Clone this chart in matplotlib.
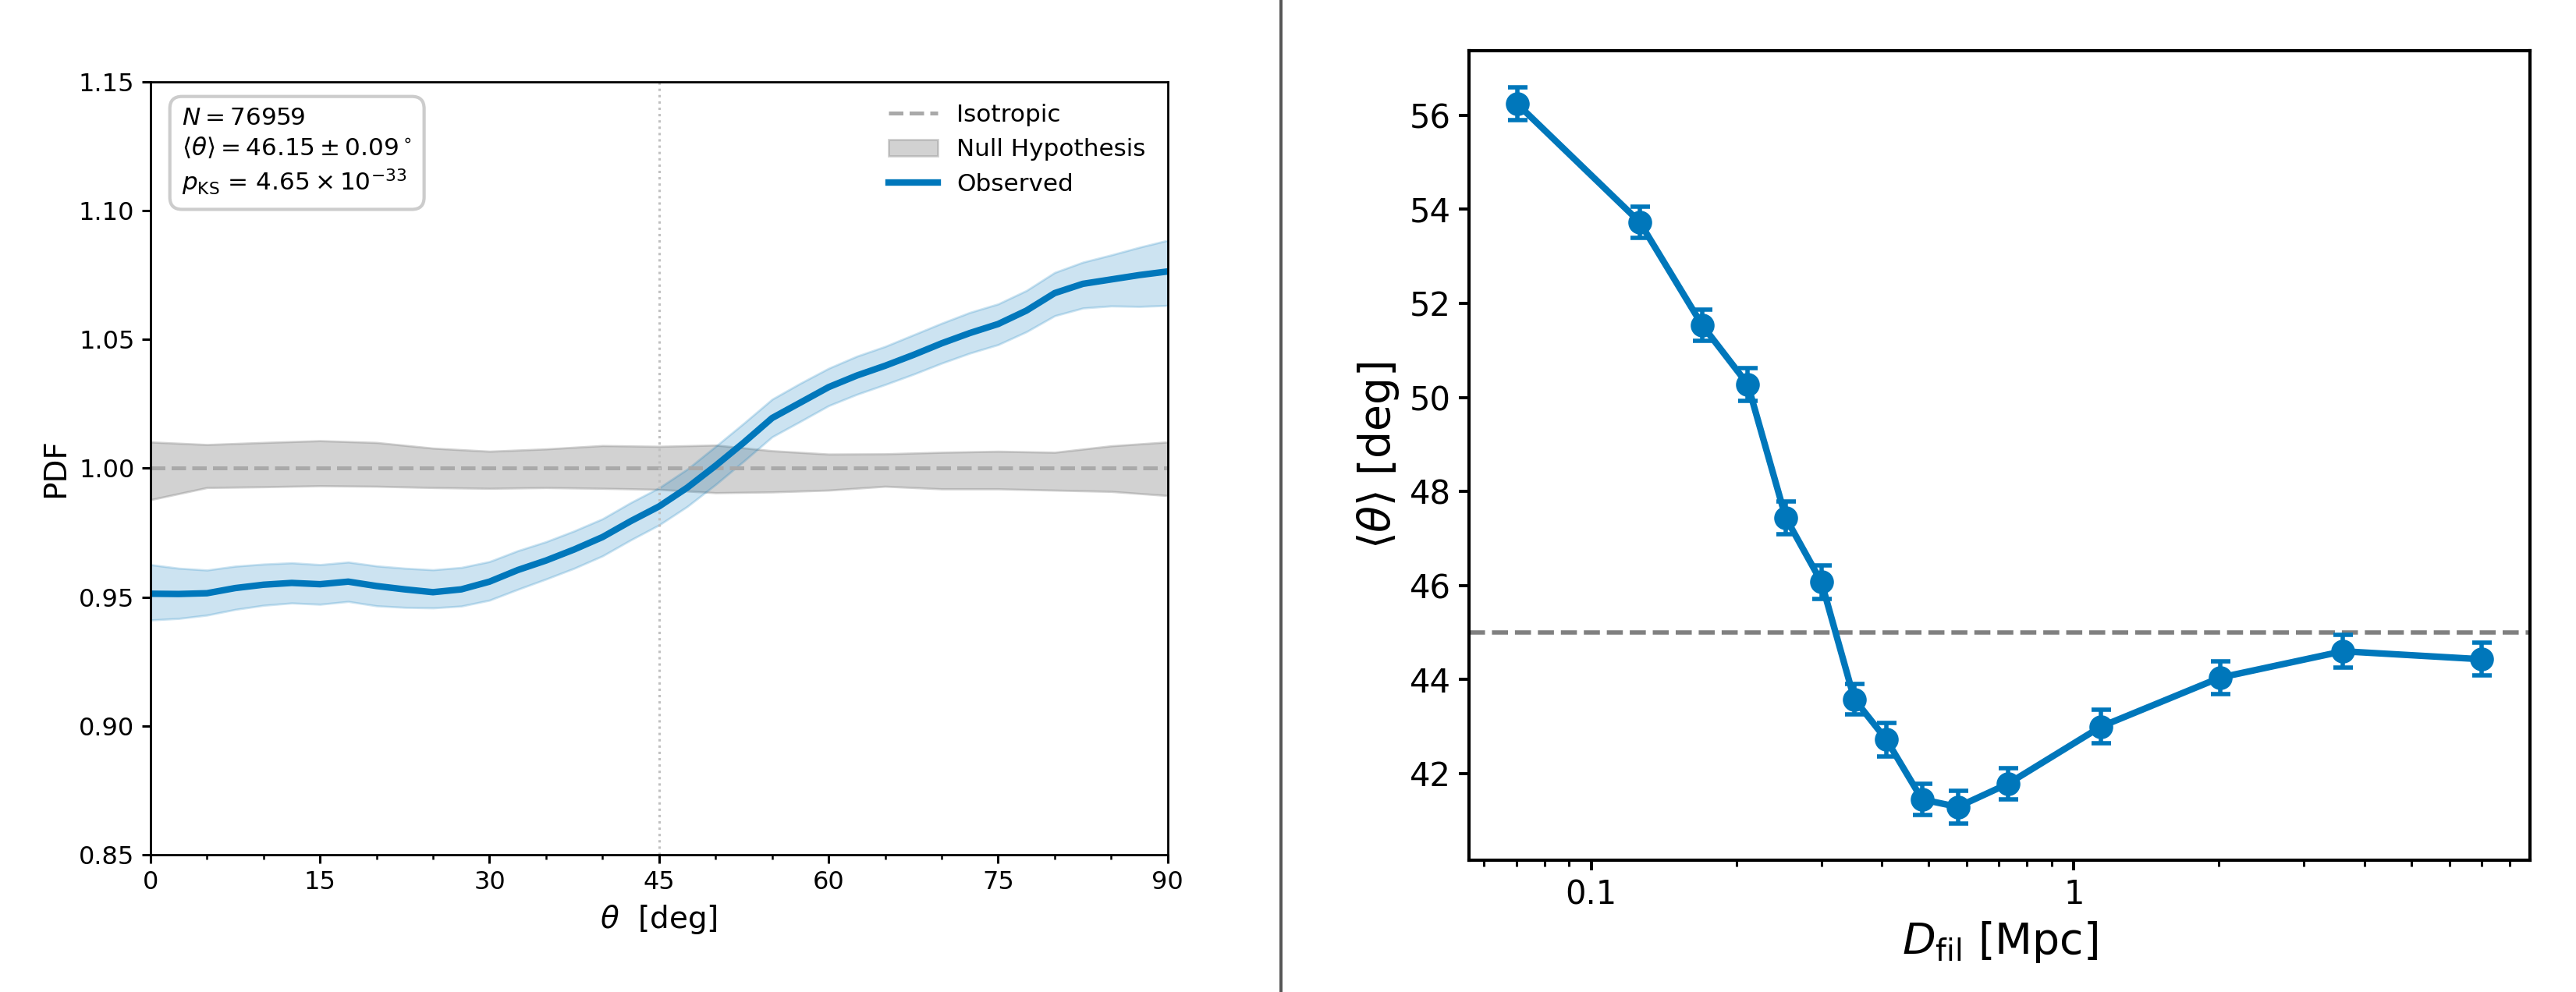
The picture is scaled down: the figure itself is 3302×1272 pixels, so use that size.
import matplotlib
matplotlib.use("Agg")
import matplotlib.pyplot as plt
import matplotlib.ticker as ticker
from matplotlib.lines import Line2D

# ---- left panel: PDF of theta ----
theta_obs = [0, 2.5, 5, 7.5, 10, 12.5, 15, 17.5, 20, 22.5, 25, 27.5, 30, 32.5, 35,
             37.5, 40, 42.5, 45, 47.5, 50, 52.5, 55, 57.5, 60, 62.5, 65, 67.5, 70,
             72.5, 75, 77.5, 80, 82.5, 85, 87.5, 90]
pdf_obs = [0.9513, 0.9512, 0.9515, 0.9535, 0.9548, 0.9555, 0.9550, 0.9560, 0.9543,
           0.9530, 0.9519, 0.9530, 0.9560, 0.9605, 0.9642, 0.9685, 0.9733, 0.9795,
           0.9852, 0.9925, 1.0010, 1.0100, 1.0195, 1.0255, 1.0315, 1.0360, 1.0398,
           1.0440, 1.0485, 1.0525, 1.0560, 1.0612, 1.0680, 1.0716, 1.0733, 1.0750,
           1.0764]
pdf_obs_hi = [0.9626, 0.9612, 0.9605, 0.9620, 0.9628, 0.9633, 0.9626, 0.9636, 0.9621,
              0.9612, 0.9606, 0.9615, 0.9638, 0.9680, 0.9715, 0.9757, 0.9804, 0.9867,
              0.9924, 0.9997, 1.0085, 1.0175, 1.0268, 1.0330, 1.0388, 1.0435, 1.0473,
              1.0518, 1.0563, 1.0605, 1.0638, 1.0690, 1.0760, 1.0800, 1.0828, 1.0858,
              1.0885]
pdf_obs_lo = [0.9411, 0.9417, 0.9430, 0.9452, 0.9468, 0.9477, 0.9472, 0.9483, 0.9466,
              0.9460, 0.9458, 0.9465, 0.9488, 0.9530, 0.9570, 0.9612, 0.9660, 0.9722,
              0.9780, 0.9852, 0.9937, 1.0028, 1.0122, 1.0182, 1.0243, 1.0287, 1.0325,
              1.0365, 1.0408, 1.0447, 1.0480, 1.0530, 1.0592, 1.0622, 1.0630, 1.0628,
              1.0632]

theta_null = [0, 5, 10, 15, 20, 25, 30, 35, 40, 45, 50, 55, 60, 65, 70, 75, 80, 85, 90]
null_hi = [1.0102, 1.0092, 1.0100, 1.0107, 1.0100, 1.0078, 1.0066, 1.0075, 1.0088,
           1.0085, 1.0090, 1.0068, 1.0055, 1.0056, 1.0062, 1.0066, 1.0062, 1.0087, 1.0102]
null_lo = [0.9878, 0.9925, 0.9928, 0.9932, 0.9930, 0.9925, 0.9922, 0.9925, 0.9922,
           0.9918, 0.9905, 0.9908, 0.9915, 0.9930, 0.9920, 0.9920, 0.9915, 0.9910, 0.9894]

stats_text = (r"$N = 76959$" + "\n"
              + r"$\langle\theta\rangle = 46.15 \pm 0.09^\circ$" + "\n"
              + r"$p_{\rm KS}$ = $4.65 \times 10^{-33}$")

# ---- right panel: mean angle vs distance to filament ----
d_fil = [0.0703, 0.126, 0.170, 0.211, 0.253, 0.300, 0.351, 0.409, 0.485, 0.575,
         0.730, 1.14, 2.01, 3.61, 7.01]
theta_mean = [56.24, 53.73, 51.53, 50.28, 47.44, 46.07, 43.58, 42.72, 41.45, 41.29,
              41.78, 43.00, 44.04, 44.60, 44.43]
theta_err = [0.35, 0.33, 0.33, 0.35, 0.35, 0.35, 0.33, 0.35, 0.33, 0.35, 0.33, 0.35,
             0.35, 0.35, 0.35]

blue = "#0077BB"

fig = plt.figure(figsize=(16.51, 6.36), dpi=200)

# left
ax1 = fig.add_axes([0.0584, 0.1384, 0.3949, 0.7791])
ax1.fill_between(theta_null, null_lo, null_hi, color="gray", alpha=0.35, lw=1,
                 label="Null Hypothesis")
ax1.axhline(1.0, color="darkgray", ls="--", lw=1.8, label="Isotropic")
ax1.axvline(45, color="#c0c0c0", ls=":", lw=1.1)
ax1.fill_between(theta_obs, pdf_obs_lo, pdf_obs_hi, color=blue, alpha=0.2, lw=1)
ax1.plot(theta_obs, pdf_obs, color=blue, lw=3, label="Observed")

ax1.set_xlim(0, 90)
ax1.set_ylim(0.85, 1.15)
ax1.set_xticks(range(0, 91, 15))
ax1.xaxis.set_minor_locator(ticker.MultipleLocator(5))
ax1.yaxis.set_major_formatter(ticker.FormatStrFormatter("%.2f"))
ax1.tick_params(which="major", labelsize=11.5, length=3.85, width=1.1)
ax1.tick_params(which="minor", length=2.2, width=0.9)
for s in ax1.spines.values():
    s.set_linewidth(1.0)
ax1.set_xlabel(r"$\theta$  [deg]", fontsize=14)
ax1.set_ylabel("PDF", fontsize=14)

h, l = ax1.get_legend_handles_labels()
order = [l.index("Isotropic"), l.index("Null Hypothesis"), l.index("Observed")]
ax1.legend([h[i] for i in order], [l[i] for i in order], loc="upper right",
           frameon=False, fontsize=11.2)

ax1.text(0.031, 0.968, stats_text, transform=ax1.transAxes, va="top", ha="left",
         fontsize=11.2, linespacing=1.3,
         bbox=dict(boxstyle="round,pad=0.5", facecolor="white", edgecolor="#cccccc",
                   lw=1.5))

# right
ax2 = fig.add_axes([0.5703, 0.1329, 0.4119, 0.816])
ax2.axhline(45, color="gray", ls="--", lw=2)
ax2.errorbar(d_fil, theta_mean, yerr=theta_err, fmt="o-", color=blue, lw=3, ms=10,
             capsize=4.5, elinewidth=2, capthick=2)
ax2.set_xscale("log")
ax2.xaxis.set_major_formatter(ticker.FuncFormatter(lambda v, p: f"{v:g}"))
ax2.set_yticks(range(42, 57, 2))
ax2.tick_params(which="major", labelsize=15, length=4.8, width=1.4)
ax2.tick_params(which="minor", length=2.8, width=1.1)
for s in ax2.spines.values():
    s.set_linewidth(1.5)
ax2.set_xlabel(r"$D_{\rm fil}$ [Mpc]", fontsize=20)
ax2.set_ylabel(r"$\langle\theta\rangle$ [deg]", fontsize=20)

# separator between panels
fig.add_artist(Line2D([0.4973, 0.4973], [0, 1], transform=fig.transFigure,
                      color="#555555", lw=1.4))

fig.savefig("out.png", dpi=200)
